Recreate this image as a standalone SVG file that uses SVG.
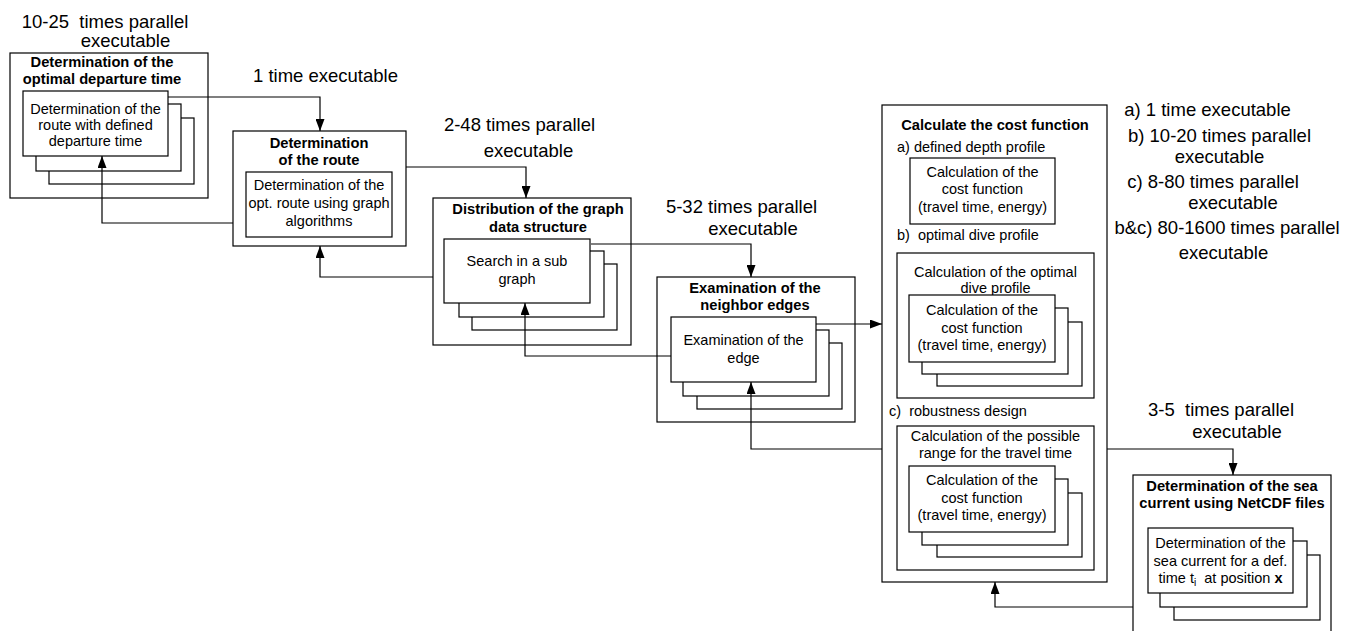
<svg xmlns="http://www.w3.org/2000/svg" width="1358" height="631" viewBox="0 0 1358 631">
<defs>
<marker id="arr" markerWidth="12" markerHeight="9" refX="12" refY="4.5" orient="auto" markerUnits="userSpaceOnUse">
<path d="M0,0 L12,4.5 L0,9 z" fill="#000"/>
</marker>
<style>
rect{fill:#fff;stroke:#000;stroke-width:1.2}
.c path{fill:none;stroke:#000;stroke-width:1.2}
text{font-family:"Liberation Sans",Arial,sans-serif;fill:#000;white-space:pre}
.lbl{font-size:18.5px;text-anchor:middle}
.t{font-size:14.7px;font-weight:bold;text-anchor:middle}
.b{font-size:14.5px;text-anchor:middle}
.s{font-size:14.5px}
</style>
</defs>
<rect x="0" y="0" width="1358" height="631" style="stroke:none"/>

<g id="labels">
<text class="lbl" x="105" y="27.5">10-25  times parallel</text>
<text class="lbl" x="125.5" y="46.5">executable</text>
<text class="lbl" x="325.5" y="81.5">1 time executable</text>
<text class="lbl" x="519.5" y="130.5">2-48 times parallel</text>
<text class="lbl" x="528.5" y="156.5">executable</text>
<text class="lbl" x="741.5" y="213.3">5-32 times parallel</text>
<text class="lbl" x="753" y="235">executable</text>
<text class="lbl" x="1221" y="416">3-5  times parallel</text>
<text class="lbl" x="1237" y="437.7">executable</text>
<text class="lbl" x="1207.5" y="116">a) 1 time executable</text>
<text class="lbl" x="1219.5" y="142.3">b) 10-20 times parallel</text>
<text class="lbl" x="1219.5" y="162.7">executable</text>
<text class="lbl" x="1213" y="187.7">c) 8-80 times parallel</text>
<text class="lbl" x="1233" y="209.3">executable</text>
<text class="lbl" x="1227" y="234.3">b&amp;c) 80-1600 times parallel</text>
<text class="lbl" x="1223.5" y="259.3">executable</text>
</g>

<g id="departure">
<rect x="10" y="53" width="198" height="145"/>
<text class="t" x="102" y="67">Determination of the</text>
<text class="t" x="102" y="83.5">optimal departure time</text>
<rect x="49" y="118" width="145" height="66"/>
<rect x="36" y="104" width="145" height="67"/>
<rect x="23" y="91" width="145" height="65"/>
<text class="b" x="95.5" y="113.5">Determination of the</text>
<text class="b" x="95.5" y="130">route with defined</text>
<text class="b" x="95.5" y="146">departure time</text>
</g>

<g id="route">
<rect x="233" y="131" width="173" height="115"/>
<text class="t" x="319" y="147.5">Determination</text>
<text class="t" x="319" y="165">of the route</text>
<rect x="246" y="172" width="146" height="65"/>
<text class="b" x="319" y="189.5">Determination of the</text>
<text class="b" x="319" y="207.5">opt. route using graph</text>
<text class="b" x="319" y="225.5">algorithms</text>
</g>

<g id="graph">
<rect x="433" y="198" width="198" height="147"/>
<text class="t" x="538" y="213.5">Distribution of the graph</text>
<text class="t" x="538" y="231.5">data structure</text>
<rect x="472" y="264" width="145" height="66"/>
<rect x="459" y="251" width="145" height="66"/>
<rect x="444" y="239" width="146" height="64"/>
<text class="b" x="517" y="265.5">Search in a sub</text>
<text class="b" x="517" y="284.3">graph</text>
</g>

<g id="neighbor">
<rect x="657" y="277" width="198" height="145"/>
<text class="t" x="755" y="292.7">Examination of the</text>
<text class="t" x="755" y="310">neighbor edges</text>
<rect x="697" y="343" width="145" height="66"/>
<rect x="683" y="330" width="146" height="66"/>
<rect x="671" y="317" width="145" height="65"/>
<text class="b" x="743.5" y="345">Examination of the</text>
<text class="b" x="743.5" y="362.7">edge</text>
</g>

<g id="cost">
<rect x="882" y="105" width="225" height="477"/>
<text class="t" x="995" y="130">Calculate the cost function</text>
<text class="s" x="897" y="151.7">a) defined depth profile</text>
<rect x="910" y="158" width="145" height="66"/>
<text class="b" x="982.5" y="176.7">Calculation of the</text>
<text class="b" x="982.5" y="194.3">cost function</text>
<text class="b" x="982.5" y="211.7">(travel time, energy)</text>
<text class="s" x="897" y="240">b)  optimal dive profile</text>
<rect x="897" y="253" width="197" height="145"/>
<text class="b" x="995.5" y="276.7">Calculation of the optimal</text>
<text class="b" x="995.5" y="293.3">dive profile</text>
<rect x="937" y="322" width="145" height="64"/>
<rect x="922" y="308" width="146" height="66"/>
<rect x="909" y="295" width="146" height="67"/>
<text class="b" x="982" y="315">Calculation of the</text>
<text class="b" x="982" y="332.7">cost function</text>
<text class="b" x="982" y="350">(travel time, energy)</text>
<text class="s" x="889" y="416">c)  robustness design</text>
<rect x="897" y="426" width="197" height="144"/>
<text class="b" x="995.5" y="440.7">Calculation of the possible</text>
<text class="b" x="995.5" y="458.3">range for the travel time</text>
<rect x="937" y="493" width="145" height="64"/>
<rect x="922" y="479" width="146" height="66"/>
<rect x="909" y="466" width="146" height="66"/>
<text class="b" x="982" y="485">Calculation of the</text>
<text class="b" x="982" y="502.7">cost function</text>
<text class="b" x="982" y="520">(travel time, energy)</text>
</g>

<g id="seacurrent">
<rect x="1133" y="475" width="198" height="170"/>
<text class="t" x="1232" y="490.7">Determination of the sea</text>
<text class="t" x="1232" y="508.3">current using NetCDF files</text>
<rect x="1174" y="555" width="146" height="65"/>
<rect x="1160" y="541" width="147" height="66"/>
<rect x="1148" y="528" width="145" height="65"/>
<text class="b" x="1220.5" y="547.7">Determination of the</text>
<text class="b" x="1220.5" y="565.7">sea current for a def.</text>
<text class="b" x="1220.5" y="583.3">time t<tspan font-size="10" dy="3">i</tspan><tspan dy="-3">  at position </tspan><tspan font-weight="bold">x</tspan></text>
</g>

<g id="connectors" class="c">
<path d="M168,97 H320 V131" marker-end="url(#arr)"/>
<path d="M433,277 H320 V246" marker-end="url(#arr)"/>
<path d="M233,223 H102 V156" marker-end="url(#arr)"/>
<path d="M406,167 H526 V198" marker-end="url(#arr)"/>
<path d="M591,244 H751 V277" marker-end="url(#arr)"/>
<path d="M671,356 H525 V303" marker-end="url(#arr)"/>
<path d="M816,324 H882" marker-end="url(#arr)"/>
<path d="M882,449 H751 V382" marker-end="url(#arr)"/>
<path d="M1107,449 H1233 V475" marker-end="url(#arr)"/>
<path d="M1133,607 H995 V582" marker-end="url(#arr)"/>
</g>
</svg>
